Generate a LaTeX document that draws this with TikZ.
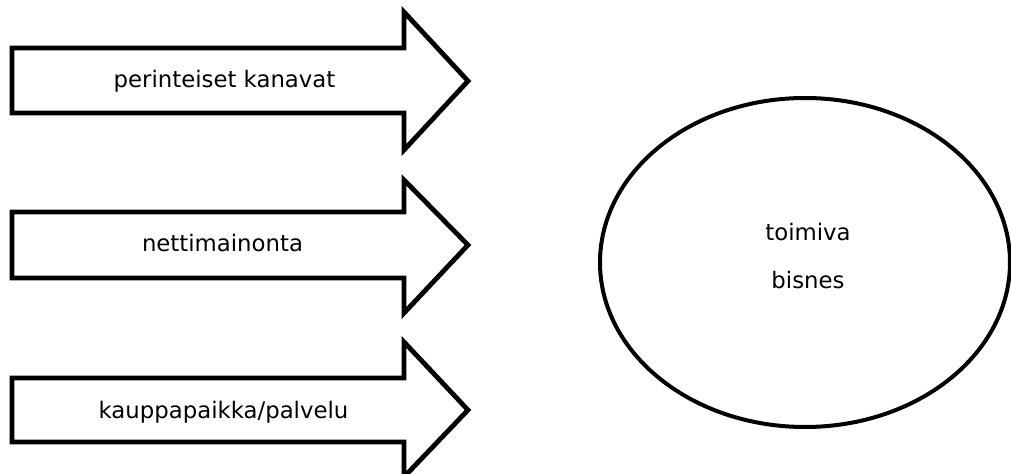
\documentclass[tikz,border=0pt]{standalone}
\usepackage{fontspec}
\setmainfont{DejaVu Sans}
\begin{document}
\begin{tikzpicture}[x=0.75pt,y=-0.75pt,
  arrowbox/.style={draw=black,line width=3.6pt,fill=white,line join=miter,miter limit=10},
  ovalbox/.style={draw=black,line width=3pt,fill=white},
  lbl/.style={anchor=base,inner sep=0pt,font=\fontsize{17.1}{20}\selectfont,text=black}]
\useasboundingbox (0,0) rectangle (1011,474);
% arrow 1
\draw[arrowbox] (12,48) -- (404,48) -- (404,12) -- (468,81) -- (404,150) -- (404,113) -- (12,113) -- cycle;
% arrow 2
\draw[arrowbox] (12,212) -- (404,212) -- (404,180) -- (468,245) -- (404,313) -- (404,278) -- (12,278) -- cycle;
% arrow 3
\draw[arrowbox] (12,378) -- (404,378) -- (404,342) -- (468,410) -- (404,477) -- (404,442) -- (12,442) -- cycle;
\node[lbl] (t1) at (224.5,88) {perinteiset kanavat};
\node[lbl] (t2) at (222.5,252) {nettimainonta};
\node[lbl] (t3) at (223.5,418) {kauppapaikka/palvelu};
% ellipse
\draw[ovalbox] (805,262.5) ellipse [x radius=205, y radius=164.5];
\node[lbl] (e1) at (808,241) {toimiva};
\node[lbl] (e2) at (808,288) {bisnes};
\end{tikzpicture}
\end{document}
